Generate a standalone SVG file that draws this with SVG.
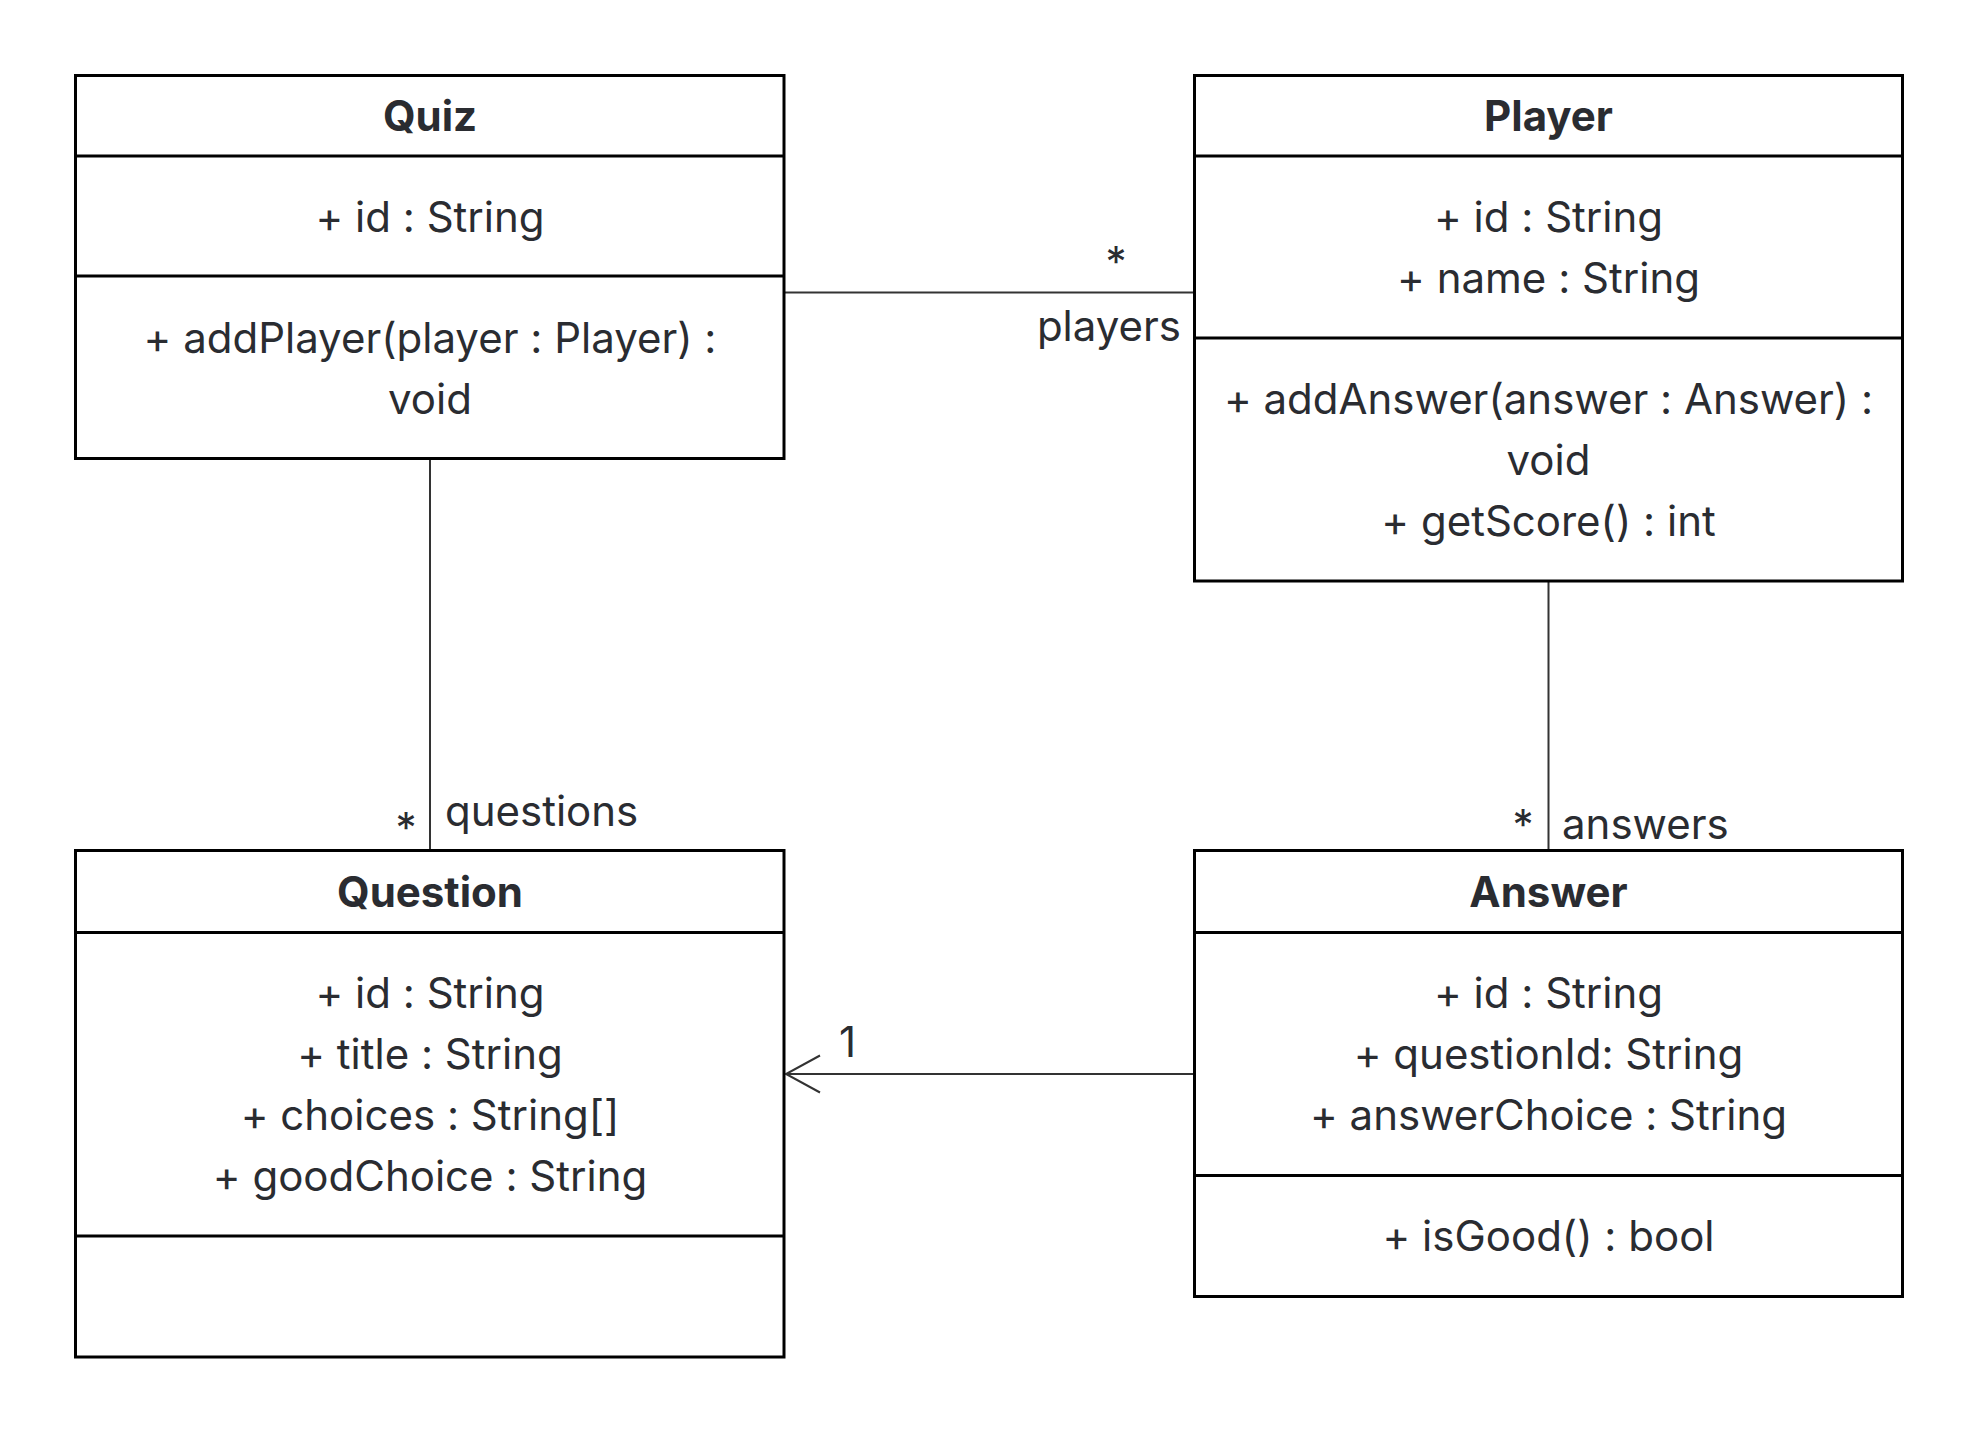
<svg xmlns="http://www.w3.org/2000/svg" width="1976" height="1433" viewBox="0 0 1976 1433">
  <style>
    text { font-feature-settings: "calt" 0; }
    .box { fill: #ffffff; stroke: #000000; stroke-width: 3; }
    .div { stroke: #000000; stroke-width: 3; }
    .title { font-family: Inter, "Liberation Sans", sans-serif; font-size: 42px; font-weight: 700; fill: #2a2c31; text-anchor: middle; }
    .member { font-family: Inter, "Liberation Sans", sans-serif; font-size: 42px; fill: #2a2c31; text-anchor: middle; }
    .label { font-family: Inter, "Liberation Sans", sans-serif; font-size: 42px; fill: #2a2c31; }
    .edge { fill: none; stroke: #333333; stroke-width: 2; }
  </style>
  <defs>
    <marker id="open-arrow" markerUnits="userSpaceOnUse" markerWidth="40" markerHeight="40" viewBox="0 0 40 40" refX="36" refY="20" orient="auto">
      <path d="M2 1.5 L36 20 L2 38.5" fill="none" stroke="#333333" stroke-width="2"/>
    </marker>
  </defs>
  <rect width="1976" height="1433" fill="#ffffff"/>

  <!-- associations -->
  <g id="connectors">
    <line class="edge" x1="784" y1="292.5" x2="1194.5" y2="292.5"/>
    <text class="label" x="1116" y="277" text-anchor="middle">*</text>
    <text class="label" x="1181" y="341" text-anchor="end">players</text>

    <line class="edge" x1="430" y1="458.5" x2="430" y2="850.5"/>
    <text class="label" x="406" y="843" text-anchor="middle">*</text>
    <text class="label" x="445" y="826">questions</text>

    <line class="edge" x1="1548.5" y1="581" x2="1548.5" y2="850.5"/>
    <text class="label" x="1523" y="839.5" text-anchor="middle">*</text>
    <text class="label" x="1562" y="839">answers</text>

    <line class="edge" x1="1194.5" y1="1074" x2="786" y2="1074" marker-end="url(#open-arrow)"/>
    <text class="label" x="839" y="1057">1</text>
  </g>

  <!-- Quiz -->
  <g id="quiz">
    <rect class="box" x="75.5" y="75.5" width="708.5" height="383"/>
    <line class="div" x1="75.5" y1="156" x2="784" y2="156"/>
    <line class="div" x1="75.5" y1="276" x2="784" y2="276"/>
    <text class="title" x="430" y="131">Quiz</text>
    <text class="member" x="430" y="231.5">+ id : String</text>
    <text class="member" x="430" y="352.5">+ addPlayer(player : Player) :</text>
    <text class="member" x="430" y="413.5">void</text>
  </g>

  <!-- Player -->
  <g id="player">
    <rect class="box" x="1194.5" y="75.5" width="708" height="505.5"/>
    <line class="div" x1="1194.5" y1="156" x2="1902.5" y2="156"/>
    <line class="div" x1="1194.5" y1="338" x2="1902.5" y2="338"/>
    <text class="title" x="1548.5" y="131">Player</text>
    <text class="member" x="1548.5" y="231.5">+ id : String</text>
    <text class="member" x="1548.5" y="292.5">+ name : String</text>
    <text class="member" x="1548.5" y="413.5">+ addAnswer(answer : Answer) :</text>
    <text class="member" x="1548.5" y="474.5">void</text>
    <text class="member" x="1548.5" y="535.5">+ getScore() : int</text>
  </g>

  <!-- Question -->
  <g id="question">
    <rect class="box" x="75.5" y="850.5" width="708.5" height="506.5"/>
    <line class="div" x1="75.5" y1="932.5" x2="784" y2="932.5"/>
    <line class="div" x1="75.5" y1="1236" x2="784" y2="1236"/>
    <text class="title" x="430" y="906.5">Question</text>
    <text class="member" x="430" y="1008">+ id : String</text>
    <text class="member" x="430" y="1069">+ title : String</text>
    <text class="member" x="430" y="1130">+ choices : String[]</text>
    <text class="member" x="430" y="1191">+ goodChoice : String</text>
  </g>

  <!-- Answer -->
  <g id="answer">
    <rect class="box" x="1194.5" y="850.5" width="708" height="446"/>
    <line class="div" x1="1194.5" y1="932.5" x2="1902.5" y2="932.5"/>
    <line class="div" x1="1194.5" y1="1175.5" x2="1902.5" y2="1175.5"/>
    <text class="title" x="1548.5" y="906.5">Answer</text>
    <text class="member" x="1548.5" y="1008">+ id : String</text>
    <text class="member" x="1548.5" y="1069">+ questionId: String</text>
    <text class="member" x="1548.5" y="1130">+ answerChoice : String</text>
    <text class="member" x="1548.5" y="1251">+ isGood() : bool</text>
  </g>
</svg>
